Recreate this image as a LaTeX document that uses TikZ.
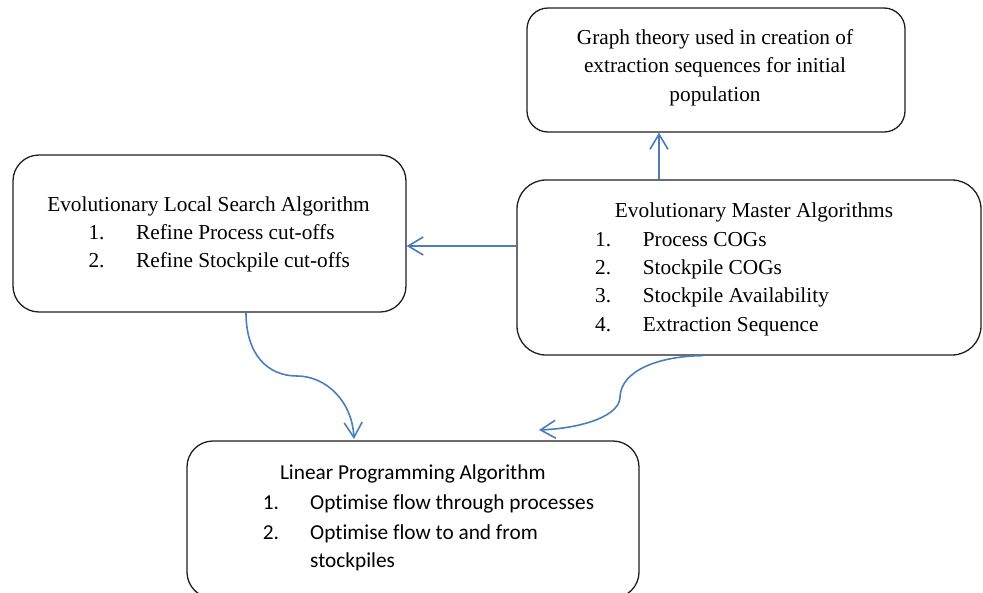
\documentclass[tikz,border=0pt]{standalone}
\usepackage{fontspec}
\setmainfont{Liberation Serif}
\newfontfamily\calibri[Ligatures=NoCommon]{Carlito}
\usetikzlibrary{arrows.meta}
\definecolor{linkblue}{HTML}{4A7EBB}
\definecolor{edge}{HTML}{1E1E1E}

\begin{document}
\begin{tikzpicture}[x=1pt,y=-1pt,
  box/.style={draw=edge, line width=1.3pt, rectangle, inner sep=0pt},
  txt/.style={inner sep=0pt, font=\fontsize{21.3}{28.5}\selectfont},
  sans/.style={inner sep=0pt, font=\calibri\fontsize{21.3}{29.5}\selectfont},
  link/.style={draw=linkblue, line width=1.6pt, -{Straight Barb[length=15pt,width=18pt]}}]

\useasboundingbox (0,0) rectangle (983,592);

% ---- boxes ----
\node[box, rounded corners=21pt, minimum width=378pt, minimum height=124pt] (graph) at (716,70) {};
\node[box, rounded corners=26pt, minimum width=393pt, minimum height=157pt] (local) at (209.5,233.5) {};
\node[box, rounded corners=29pt, minimum width=464pt, minimum height=175pt] (master) at (749,267.5) {};
\node[box, rounded corners=26pt, minimum width=452pt, minimum height=157pt] (lp) at (413,519.5) {};

% ---- graph theory box text ----
\node[txt, anchor=base] (g1) at (715,44) {Graph theory used in creation of};
\node[txt, anchor=base] (g2) at (715,72.5) {extraction sequences for initial};
\node[txt, anchor=base] (g3) at (715,101) {population};

% ---- local search box text ----
\node[txt, anchor=base] (lt) at (208.5,211) {Evolutionary Local Search Algorithm};
\node[txt, anchor=base west] (l1) at (88.3,239.3) {\makebox[47.7pt][l]{1.}Refine Process cut-offs};
\node[txt, anchor=base west] (l2) at (88.3,267.7) {\makebox[47.7pt][l]{2.}Refine Stockpile cut-offs};

% ---- master box text ----
\node[txt, anchor=base] (mt) at (754,217.3) {Evolutionary Master Algorithms};
\node[txt, anchor=base west] (m1) at (595,246.7) {\makebox[47.7pt][l]{1.}Process COGs};
\node[txt, anchor=base west] (m2) at (595,274.5) {\makebox[47.7pt][l]{2.}Stockpile COGs};
\node[txt, anchor=base west] (m3) at (595,302.5) {\makebox[47.7pt][l]{3.}Stockpile Availability};
\node[txt, anchor=base west] (m4) at (595,331) {\makebox[47.7pt][l]{4.}Extraction Sequence};

% ---- linear programming box text ----
\node[sans, anchor=base] (pt) at (412.8,479) {Linear Programming Algorithm};
\node[sans, anchor=base west] (p1) at (262.7,509) {\makebox[47.3pt][l]{1.}Optimise flow through processes};
\node[sans, anchor=base west] (p2) at (262.7,539) {\makebox[47.3pt][l]{2.}Optimise flow to and from};
\node[sans, anchor=base west] (p3) at (310,567.7) {stockpiles};

% ---- connectors ----
\coordinate (gx) at (659,0);
\draw[link] (gx |- master.north) -- (gx |- graph.south);

\coordinate (ly) at (0,246);
\draw[link] (ly -| master.west) -- (ly -| local.east);

\coordinate (lx) at (246,0);
\coordinate (t1) at (354,439);
\draw[link] (lx |- local.south) .. controls (246,355) and (268,376) .. (297,376)
  .. controls (325,376) and (352,400) .. (t1);

\coordinate (mx) at (703,0);
\coordinate (t2) at (539,430);
\draw[link] (mx |- master.south) .. controls (660,356) and (621,370) .. (620,397)
  .. controls (620,415) and (585,428) .. (t2);

\end{tikzpicture}
\end{document}
